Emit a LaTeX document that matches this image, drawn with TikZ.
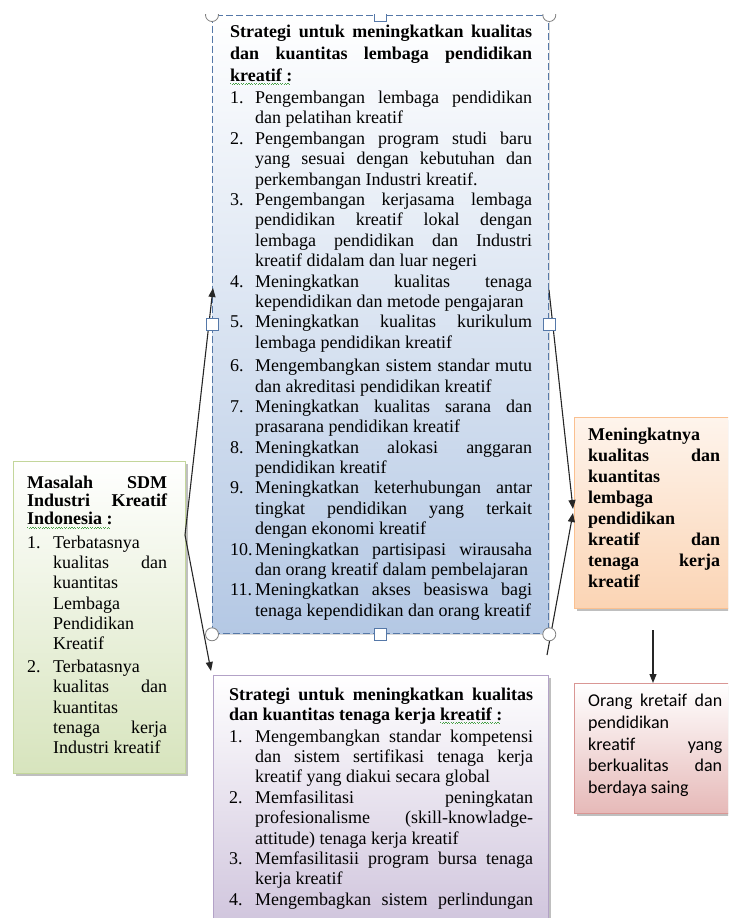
\documentclass[tikz,border=0pt]{standalone}
\usepackage{fontspec}
\setmainfont{Liberation Serif}
\newfontfamily\calfont{Carlito}
\usetikzlibrary{arrows.meta,shadows}
\definecolor{bluefill}{RGB}{180,200,228}
\definecolor{bluedraw}{RGB}{85,120,168}
\definecolor{greenfill}{RGB}{215,228,189}
\definecolor{greendraw}{RGB}{195,214,155}
\definecolor{orangefill}{RGB}{251,212,180}
\definecolor{orangedraw}{RGB}{250,192,144}
\definecolor{redfill}{RGB}{230,185,184}
\definecolor{reddraw}{RGB}{217,150,148}
\definecolor{purplefill}{RGB}{204,192,218}
\definecolor{purpledraw}{RGB}{179,162,199}
\definecolor{squigcol}{RGB}{70,160,70}
\newcommand\itm[3]{\par\hangindent=#1\hangafter=1\noindent\hbox to #1{#2\hfil}#3\par}
\newcommand\squig[1]{\setbox0\hbox{#1}\rlap{\raisebox{-1.5pt}{\color{squigcol}\leaders\hbox to 2.6pt{\vrule width 1.1pt height -0.2pt depth 1.2pt\hskip0.2pt\vrule width 1.1pt height -1.1pt depth 2.1pt\hss}\hskip\wd0}}\box0}
\begin{document}
\begin{tikzpicture}[x=1pt,y=-1pt,
  box/.style={rectangle, inner sep=0, anchor=north west, line width=1pt},
  txt/.style={anchor=base west, inner sep=0, align=justify},
  arr/.style={line width=1.1pt, draw=black!85, -{Triangle[length=9pt,width=7pt]}},
  handlec/.style={circle, draw=gray, fill=white, line width=0.8pt, minimum size=13pt, inner sep=0},
  handles/.style={rectangle, draw=bluedraw, fill=white, line width=0.8pt, minimum size=12pt, inner sep=0},
  shad/.style={drop shadow={shadow xshift=2.5pt, shadow yshift=-2.5pt, opacity=0.25, fill=black}}
]
\useasboundingbox (0,0) rectangle (728,918);
\clip (0,0) rectangle (728,918);

% boxes
\node[box, shad, draw=greendraw, top color=white, bottom color=greenfill, minimum width=172pt, minimum height=312pt] (green) at (13,461) {};
\node[box, drop shadow={shadow xshift=1.5pt, shadow yshift=-1.5pt, opacity=0.15, fill=black}, draw=bluedraw, line width=1.3pt, dash pattern=on 7pt off 3pt, top color=white, bottom color=bluefill, minimum width=336pt, minimum height=618pt] (blue) at (212,15) {};
\node[box, shad, draw=purpledraw, top color=white, bottom color=purplefill, minimum width=335pt, minimum height=270pt] (purple) at (213,675) {};
\node[box, shad, draw=orangedraw, top color=orangefill!25, bottom color=orangefill, minimum width=170pt, minimum height=191pt] (orange) at (574,417) {};
\node[box, shad, draw=reddraw, top color=white, bottom color=redfill, minimum width=170pt, minimum height=130pt] (red) at (574,683) {};

% texts
\node[txt, text width=302pt] (bluetxt) at (230,37.5) {%
{\bfseries\fontsize{18}{21.8}\selectfont Strategi untuk meningkatkan kualitas\linebreak dan kuantitas lembaga pendidikan\linebreak \squig{kreatif :}\par}
\fontsize{18}{20.4}\selectfont\vskip1.9pt
\itm{25pt}{1.}{Pengembangan lembaga pendidikan\linebreak dan pelatihan kreatif}
\itm{25pt}{2.}{Pengembangan program studi baru\linebreak yang sesuai dengan kebutuhan dan\linebreak perkembangan Industri kreatif.}
\itm{25pt}{3.}{Pengembangan kerjasama lembaga\linebreak pendidikan kreatif lokal dengan\linebreak lembaga pendidikan dan Industri\linebreak kreatif didalam dan luar negeri}
\itm{25pt}{4.}{Meningkatkan kualitas tenaga\linebreak kependidikan dan metode pengajaran}
\itm{25pt}{5.}{Meningkatkan kualitas kurikulum\linebreak lembaga pendidikan kreatif}
\vskip3pt
\itm{25pt}{6.}{Mengembangkan sistem standar mutu\linebreak dan akreditasi pendidikan kreatif}
\itm{25pt}{7.}{Meningkatkan kualitas sarana dan\linebreak prasarana pendidikan kreatif}
\itm{25pt}{8.}{Meningkatkan alokasi anggaran\linebreak pendidikan kreatif}
\itm{25pt}{9.}{Meningkatkan keterhubungan antar\linebreak tingkat pendidikan yang terkait\linebreak dengan ekonomi kreatif}
\itm{25pt}{10.}{Meningkatkan partisipasi wirausaha\linebreak dan orang kreatif dalam pembelajaran}
\itm{25pt}{11.}{Meningkatkan akses beasiswa bagi\linebreak tenaga kependidikan dan orang kreatif}
};

\node[txt, text width=140pt] (greentxt) at (27,488.3) {%
{\bfseries\fontsize{18}{18.3}\selectfont Masalah SDM\linebreak Industri Kreatif\linebreak \squig{Indonesia :}\par}
\fontsize{18}{20.3}\selectfont\vskip3pt
\itm{26pt}{1.}{Terbatasnya\newline kualitas dan\linebreak kuantitas\newline Lembaga\newline Pendidikan\newline Kreatif}
\vskip2.4pt
\itm{26pt}{2.}{Terbatasnya\newline kualitas dan\linebreak kuantitas\newline tenaga kerja\linebreak Industri kreatif}
};

\node[txt, text width=132pt] (orangetxt) at (588,440) {%
\bfseries\fontsize{18}{21.1}\selectfont Meningkatnya\newline kualitas dan\linebreak kuantitas\newline lembaga\newline pendidikan\newline kreatif dan\linebreak tenaga kerja\linebreak kreatif\par};

\node[txt, text width=134pt] (redtxt) at (588,706.7) {%
\calfont\fontsize{18}{21.65}\selectfont Orang kretaif dan\linebreak pendidikan\newline kreatif yang\linebreak berkualitas dan\linebreak berdaya saing\par};

\node[txt, text width=304pt] (purpletxt) at (229,700) {%
{\bfseries\fontsize{18}{20}\selectfont Strategi untuk meningkatkan kualitas\linebreak dan kuantitas tenaga kerja \squig{kreatif :}\par}
\fontsize{18}{20.4}\selectfont\vskip1.7pt
\itm{26pt}{1.}{Mengembangkan standar kompetensi\linebreak dan sistem sertifikasi tenaga kerja\linebreak kreatif yang diakui secara global}
\itm{26pt}{2.}{Memfasilitasi peningkatan\linebreak profesionalisme (skill-knowladge-\linebreak attitude) tenaga kerja kreatif}
\itm{26pt}{3.}{Memfasilitasii program bursa tenaga\linebreak kerja kreatif}
\itm{26pt}{4.}{{\parfillskip=0pt Mengembagkan sistem perlindungan\par}}
};

% connectors
\coordinate (gsrc) at (185,535);
\coordinate (tipL) at (213,288);
\coordinate (tipP) at (211,671);
\coordinate (rs1) at (549,290);
\coordinate (rs2) at (547,655);
\coordinate (tipO1) at (573,509);
\coordinate (tipO2) at (573,513);
\coordinate (os) at (653,630);
\draw[arr] (gsrc) -- (tipL);
\draw[arr] (gsrc) -- (tipP);
\draw[arr] (rs1) -- (tipO1);
\draw[arr] (rs2) -- (tipO2);
\draw[arr] (os) -- (red.north -| os);

% selection handles
\begin{scope}
\clip (0,14) rectangle (728,918);
\node[handlec] (hc1) at (blue.north west) {};
\node[handlec] (hc2) at (blue.north east) {};
\node[handles] (hs1) at (blue.north) {};
\end{scope}
\node[handles] (hs2) at (blue.west) {};
\node[handles] (hs3) at (blue.east) {};
\node[handles] (hs4) at (blue.south) {};
\node[handlec] (hc3) at (blue.south west) {};
\node[handlec] (hc4) at (blue.south east) {};
\end{tikzpicture}
\end{document}
